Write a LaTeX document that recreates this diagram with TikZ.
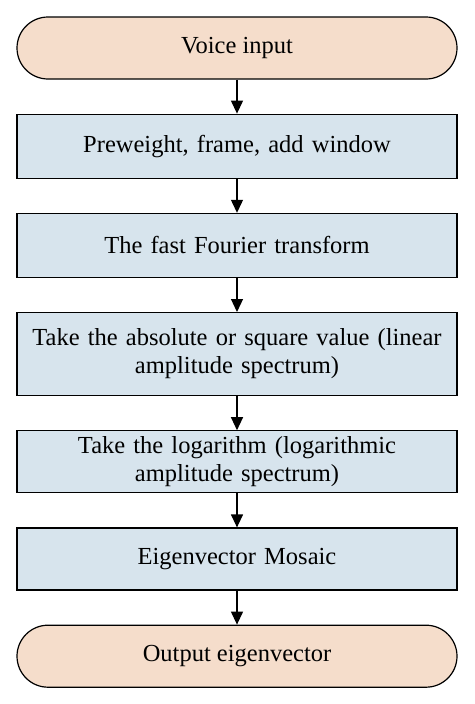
\documentclass[tikz,border=0pt]{standalone}
\usepackage{fontspec}
\setmainfont{Liberation Serif}
\usetikzlibrary{positioning,arrows.meta}
\definecolor{peach}{RGB}{245,221,203}
\definecolor{paleblue}{RGB}{215,228,237}

\begin{document}
\begin{tikzpicture}[x=1pt, y=1pt, node distance=34pt, auto,
  terminal/.style={draw, line width=1.2pt, fill=peach, rounded corners=31pt,
    minimum width=440pt, minimum height=62pt, font=\fontsize{24.5}{28}\selectfont},
  stepbox/.style={draw, line width=1.2pt, fill=paleblue, align=center,
    text width=432pt, minimum width=440pt, minimum height=64pt, font=\fontsize{24.5}{28}\selectfont}]
\useasboundingbox (0,0) rectangle (474,-704);
\node[terminal] (vin) at (237,-48) {Voice input};
\node[stepbox] (pre) [below=of vin] {Preweight, frame, add window};
\node[stepbox] (fft) [below=of pre] {The fast Fourier transform};
\node[stepbox, minimum height=83pt] (absv) [below=of fft] {Take the absolute or square value (linear\\amplitude spectrum)};
\node[stepbox, minimum height=62pt] (logv) [below=of absv] {Take the logarithm (logarithmic\\amplitude spectrum)};
\node[stepbox, minimum height=62pt] (mosaic) [below=of logv] {Eigenvector Mosaic};
\node[terminal] (vout) [below=of mosaic] {Output eigenvector};
\path[-{Triangle[length=13pt,width=12pt]}, line width=1.2pt]
(vin) edge (pre)
(pre) edge (fft)
(fft) edge (absv)
(absv) edge (logv)
(logv) edge (mosaic)
(mosaic) edge (vout);
\end{tikzpicture}
\end{document}
